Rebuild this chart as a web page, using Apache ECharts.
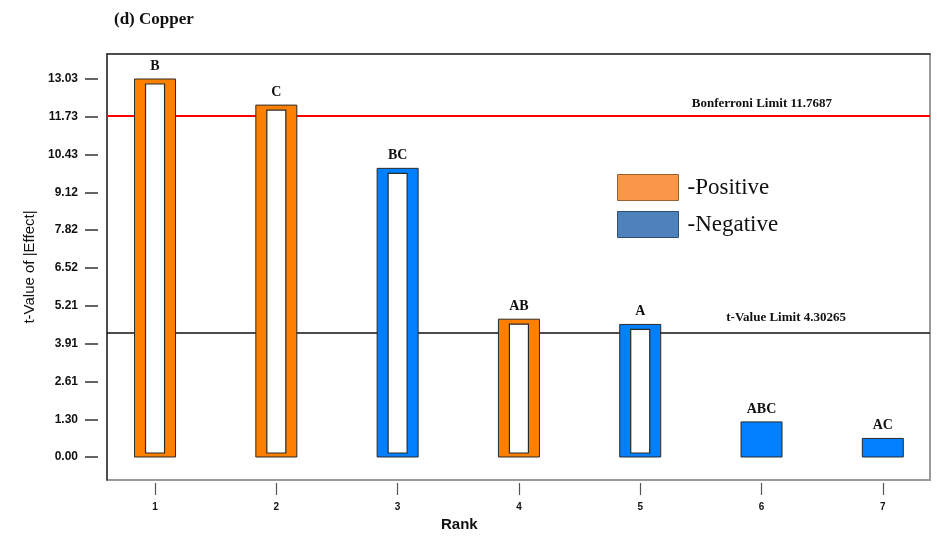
<!DOCTYPE html>
<html>
<head>
<meta charset="utf-8">
<script src="https://cdn.jsdelivr.net/npm/echarts@6/dist/echarts.min.js"></script>
<style>
  html, body { margin: 0; padding: 0; background: #fff; }
  #chart { width: 937px; height: 538px; }
</style>
</head>
<body>
<div id="chart"></div>
<script>
// Effect ranking for copper: rank, term, |t| value and sign of the effect
const ranks = [1, 2, 3, 4, 5, 6, 7];
const terms = ['B', 'C', 'BC', 'AB', 'A', 'ABC', 'AC'];
const tValues = [13.03, 12.13, 9.95, 4.75, 4.57, 1.21, 0.64];
const signs = ['+', '+', '-', '+', '-', '-', '-'];

// Reference limits
const bonferroniLimit = 11.7687;
const tValueLimit = 4.30265;

// Axis tick labels
const yTickLabels = ['0.00', '1.30', '2.61', '3.91', '5.21', '6.52', '7.82', '9.12', '10.43', '11.73', '13.03'];
const xTickLabels = ['1', '2', '3', '4', '5', '6', '7'];

const ORANGE = '#ff8000';
const BLUE = '#0080ff';

function seriesData(sign) {
  const out = [];
  ranks.forEach((r, i) => {
    if (signs[i] === sign) out.push([r, tValues[i], terms[i]]);
  });
  return out;
}

function makeRenderer(color) {
  return function (params, api) {
    const rank = api.value(0);
    const val = api.value(1);
    const base = api.coord([rank, 0]);
    const top = api.coord([rank, val]);
    const w = 41;
    const h = base[1] - top[1];
    const children = [{
      type: 'rect',
      shape: { x: base[0] - w / 2, y: top[1], width: w, height: h },
      style: { fill: color, stroke: '#2a2a2a', lineWidth: 1 }
    }];
    // significant effects are drawn as open bars
    if (val > tValueLimit) {
      children.push({
        type: 'rect',
        shape: { x: base[0] - 9.5, y: top[1] + 5, width: 19, height: h - 9 },
        style: { fill: '#ffffff', stroke: '#2a2a2a', lineWidth: 1.2 }
      });
    }
    children.push({
      type: 'text',
      x: base[0],
      y: top[1] - 6,
      style: {
        text: api.value(2),
        fill: '#111',
        font: 'bold 14px "Liberation Serif", "Times New Roman", serif',
        align: 'center',
        verticalAlign: 'bottom'
      }
    });
    return { type: 'group', children: children };
  };
}

const yMin = -0.793, yMax = 13.892;
const xMin = 0.604, xMax = 7.389;
const yTickValues = yTickLabels.map(Number);
const xTickValues = xTickLabels.map(Number);

const chart = echarts.init(document.getElementById('chart'), null, { renderer: 'canvas' });

chart.setOption({
  animation: false,
  backgroundColor: '#ffffff',
  title: {
    text: '(d) Copper',
    left: 109,
    top: 6,
    textStyle: { fontFamily: '"Liberation Serif", "Times New Roman", serif', fontWeight: 'bold', fontSize: 17, color: '#111' }
  },
  legend: {
    left: 612,
    top: 169,
    orient: 'vertical',
    itemWidth: 61,
    itemHeight: 26,
    itemGap: 10,
    icon: 'rect',
    textStyle: { fontFamily: '"Liberation Serif", "Times New Roman", serif', fontSize: 23, color: '#111', padding: [0, 0, 0, 4] },
    data: [
      { name: '-Positive', itemStyle: { color: '#f79646', borderColor: '#9a6030', borderWidth: 1 } },
      { name: '-Negative', itemStyle: { color: '#4f81bd', borderColor: '#2f4f70', borderWidth: 1 } }
    ]
  },
  grid: {
    left: 107, right: 7, top: 54, bottom: 58,
    show: true, borderColor: '#9a9a9a', borderWidth: 2, backgroundColor: '#fff'
  },
  xAxis: [{
    type: 'value', min: xMin, max: xMax, offset: 3, position: 'bottom',
    axisLine: { show: false, onZero: false },
    splitLine: { show: false },
    axisTick: { show: true, length: 12, customValues: xTickValues, lineStyle: { color: '#555', width: 1.2 } },
    axisLabel: {
      customValues: xTickValues, margin: 19,
      formatter: v => String(v),
      fontFamily: '"Liberation Sans", Arial, sans-serif', fontWeight: 'bold', fontSize: 10, color: '#111'
    }
  }, {
    type: 'value', min: xMin, max: xMax, position: 'top',
    axisLine: { show: true, onZero: false, lineStyle: { color: '#333', width: 1.5 } },
    axisTick: { show: false }, axisLabel: { show: false }, splitLine: { show: false }
  }],
  yAxis: [{
    type: 'value', min: yMin, max: yMax, offset: 9, position: 'left',
    name: 't-Value of |Effect|',
    nameLocation: 'middle',
    nameGap: 48,
    nameRotate: 90,
    nameTextStyle: { fontFamily: '"Liberation Sans", Arial, sans-serif', fontSize: 15, color: '#111' },
    axisLine: { show: false, onZero: false },
    splitLine: { show: false },
    axisTick: { show: true, length: 13, customValues: yTickValues, lineStyle: { color: '#333', width: 1.5 } },
    axisLabel: {
      customValues: yTickValues, margin: 20,
      formatter: v => yTickLabels[yTickValues.indexOf(v)] || v.toFixed(2),
      fontFamily: '"Liberation Sans", Arial, sans-serif', fontWeight: 'bold', fontSize: 12, color: '#111'
    }
  }, {
    type: 'value', min: yMin, max: yMax, position: 'left',
    axisLine: { show: true, onZero: false, lineStyle: { color: '#333', width: 1.5 } },
    axisTick: { show: false }, axisLabel: { show: false }, splitLine: { show: false }
  }],
  graphic: [{
    type: 'text', left: 441, top: 517,
    style: { text: 'Rank', font: 'bold 15px "Liberation Sans", Arial, sans-serif', fill: '#111' }
  }],
  series: [{
    name: '-Positive',
    type: 'custom',
    color: ORANGE,
    renderItem: makeRenderer(ORANGE),
    encode: { x: 0, y: 1 },
    data: seriesData('+'),
    z: 3
  }, {
    name: '-Negative',
    type: 'custom',
    color: BLUE,
    renderItem: makeRenderer(BLUE),
    encode: { x: 0, y: 1 },
    data: seriesData('-'),
    z: 3
  }, {
    name: 'limits',
    type: 'line',
    data: [],
    markLine: {
      symbol: 'none',
      silent: true,
      z: 2,
      label: {
        position: 'insideEndTop',
        fontFamily: '"Liberation Serif", "Times New Roman", serif',
        fontWeight: 'bold', fontSize: 13, color: '#111'
      },
      data: [{
        yAxis: bonferroniLimit,
        lineStyle: { color: '#ff0000', width: 2, type: 'solid' },
        label: { formatter: 'Bonferroni Limit ' + bonferroniLimit, distance: [98, 5] }
      }, {
        yAxis: tValueLimit,
        lineStyle: { color: '#111', width: 1.5, type: 'solid' },
        label: { formatter: 't-Value Limit ' + tValueLimit, distance: [84, 8] }
      }]
    }
  }]
});
</script>
</body>
</html>
